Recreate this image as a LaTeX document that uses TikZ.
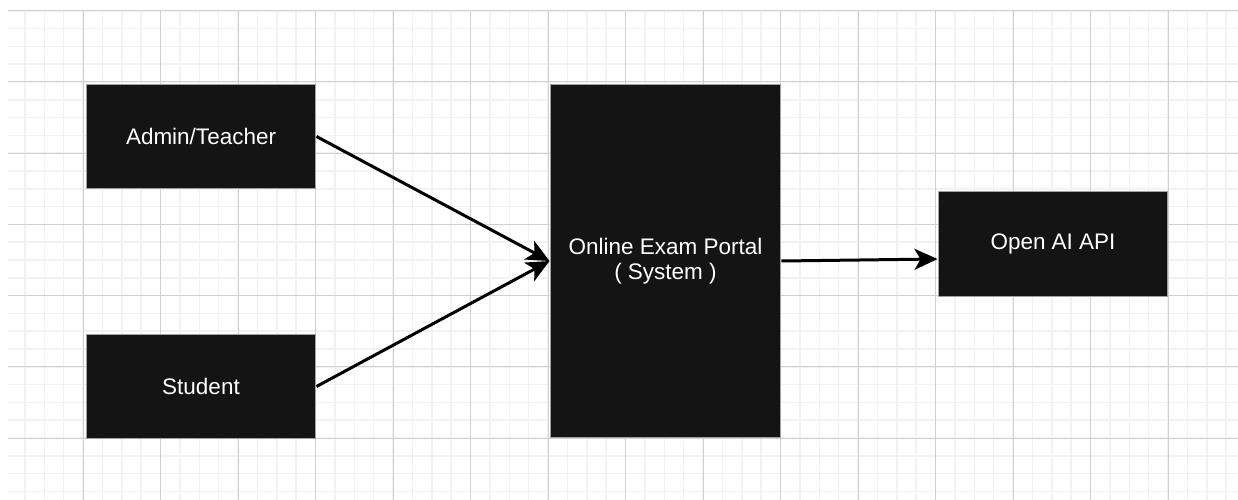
\documentclass[tikz,border=0pt]{standalone}
\usepackage{fontspec}
\setmainfont{Liberation Sans}
\usetikzlibrary{arrows.meta}
\definecolor{boxfill}{HTML}{141414}
\definecolor{minorgrid}{HTML}{F2F2F2}
\definecolor{majorgrid}{HTML}{D0D0D0}
\tikzset{
  blackbox/.style={draw={rgb,255:red,160;green,160;blue,160}, line width=0.02cm, fill=boxfill, text=white,
    font=\fontsize{12.8}{14.2}\selectfont, align=center, inner sep=0pt},
  flow/.style={line width=0.06cm, -{Stealth[length=0.46cm, width=0.42cm, inset=0.12cm]}}
}
\begin{document}
\begin{tikzpicture}[x=0.02cm, y=-0.02cm]
\useasboundingbox (0,0) rectangle (1238,500);
\fill[white] (0,0) rectangle (1238,500);
% minor grid
\foreach \i in {-3,...,59} {
  \pgfmathsetmacro{\xx}{83+19.375*\i}
  \draw[minorgrid, line width=0.03cm] (\xx,11) -- (\xx,500);
}
\foreach \j in {-4,...,23} {
  \pgfmathsetmacro{\yy}{82+17.8*\j}
  \draw[minorgrid, line width=0.03cm] (8,\yy) -- (1238,\yy);
}
% major grid
\foreach \i in {0,...,14} {
  \pgfmathsetmacro{\xx}{83+77.5*\i}
  \draw[majorgrid, line width=0.02cm] (\xx,11) -- (\xx,500);
}
\foreach \j in {-1,...,5} {
  \pgfmathsetmacro{\yy}{82+71.2*\j}
  \draw[majorgrid, line width=0.02cm] (8,\yy) -- (1238,\yy);
}
% boxes
\node[blackbox, minimum width=4.6cm, minimum height=2.1cm] (admin) at (201,136.5) {Admin/Teacher};
\node[blackbox, minimum width=4.6cm, minimum height=2.08cm] (student) at (201,386.5) {Student};
\node[blackbox, minimum width=4.62cm, minimum height=7.08cm] (portal) at (665.5,261) {Online Exam Portal\\( System )};
\node[blackbox, minimum width=4.6cm, minimum height=2.1cm] (openai) at (1053,244) {Open AI API};
% connectors
\draw[flow] (admin.east) -- (portal.west);
\draw[flow] (student.east) -- (portal.west);
\draw[flow] (portal.east) -- ([yshift=0.04cm]openai.west |- portal.east);
\end{tikzpicture}
\end{document}
